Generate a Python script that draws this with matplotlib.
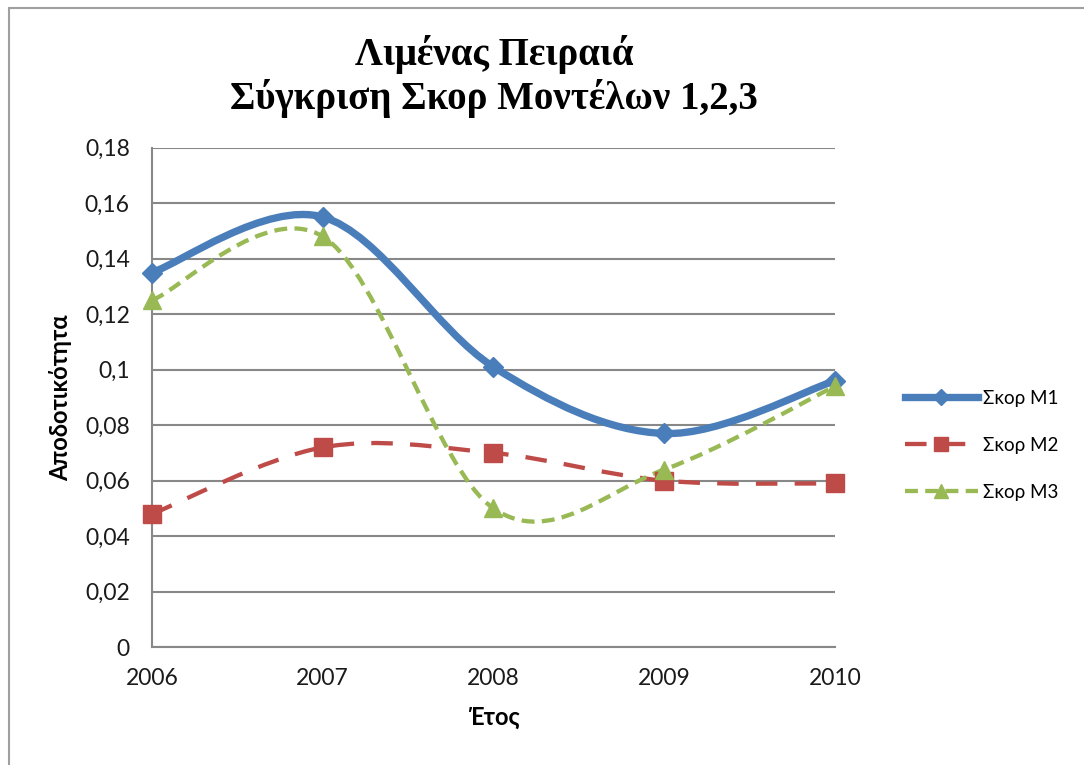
import matplotlib
matplotlib.use("Agg")
import matplotlib.pyplot as plt
import numpy as np
from matplotlib.path import Path
from matplotlib.patches import PathPatch, Rectangle
from matplotlib.lines import Line2D
from matplotlib.ticker import FuncFormatter

years = [2006, 2007, 2008, 2009, 2010]
score_m1 = [0.135, 0.155, 0.101, 0.077, 0.096]
score_m2 = [0.048, 0.072, 0.070, 0.060, 0.059]
score_m3 = [0.125, 0.148, 0.050, 0.064, 0.094]
labels = ["Σκορ M1", "Σκορ M2", "Σκορ M3"]
y_ticks = [0, 0.02, 0.04, 0.06, 0.08, 0.1, 0.12, 0.14, 0.16, 0.18]

SANS = ["Lato", "Noto Sans", "DejaVu Sans"]
plt.rcParams["font.family"] = SANS


def smooth_path(xs, ys):
    # Excel-style smoothed line: cubic Bezier through each point (Catmull-Rom, tension 1/6)
    p = np.column_stack([xs, ys]).astype(float)
    n = len(p)
    verts, codes = [p[0]], [Path.MOVETO]
    for i in range(n - 1):
        p0 = p[i - 1] if i > 0 else p[i]
        p3 = p[i + 2] if i + 2 < n else p[i + 1]
        c1 = p[i] + (p[i + 1] - p0) / 6
        c2 = p[i + 1] - (p3 - p[i]) / 6
        verts += [c1, c2, p[i + 1]]
        codes += [Path.CURVE4] * 3
    return Path(verts, codes)


# values, colour, width, dash, marker, marker size (plot), marker size (legend)
series = [
    (score_m1, "#4a7ebb", 5.3, "-", "D", 10, 8),
    (score_m2, "#be4b48", 3.1, (0, (5, 4)), "s", 13, 10),
    (score_m3, "#98b954", 3.1, (0, (3, 1.7)), "^", 13, 10),
]

fig = plt.figure(figsize=(10.84, 7.65), dpi=100)
ax = fig.add_axes([0.1402, 0.154, 0.630, 0.653])

handles = []
for (vals, color, lw, ls, mk, ms, lms), lab in zip(series, labels):
    ax.add_patch(PathPatch(smooth_path(years, vals), facecolor="none", edgecolor=color,
                           lw=lw, linestyle=ls, capstyle="butt", zorder=3))
    ax.plot(years, vals, linestyle="none", marker=mk, ms=ms, color=color, zorder=4, clip_on=False)
    handles.append(Line2D([], [], color=color, lw=lw, linestyle=ls, marker=mk, ms=lms))

ax.set_xlim(2006, 2010)
ax.set_ylim(0, 0.18)
ax.set_xticks(years)
ax.set_yticks(y_ticks)
ax.yaxis.set_major_formatter(FuncFormatter(lambda v, _: ("%g" % round(v, 2)).replace(".", ",")))
ax.grid(axis="y", color="#888888", lw=1.5)
ax.set_axisbelow(True)
for s in ["top", "right"]:
    ax.spines[s].set_visible(False)
for s in ["left", "bottom"]:
    ax.spines[s].set_color("#888888")
    ax.spines[s].set_linewidth(1.5)
ax.tick_params(length=0, labelsize=16.5, colors="#1a1a1a")
ax.tick_params(axis="y", pad=16)
ax.tick_params(axis="x", pad=15)

ax.set_xlabel("Έτος", fontsize=17, fontweight="bold", labelpad=12)
ax.set_ylabel("Αποδοτικότητα", fontsize=17, fontweight="bold", labelpad=9)

fig.text(0.456, 0.9, "Λιμένας Πειραιά\nΣύγκριση Σκορ Μοντέλων 1,2,3", ha="center", va="center",
         family=["Liberation Serif", "DejaVu Serif"], fontweight="bold", fontsize=28,
         linespacing=1.15)

ax.legend(handles=handles, labels=labels, loc="center left", bbox_to_anchor=(0.826, 0.418),
          bbox_transform=fig.transFigure, frameon=False, fontsize=13.5, handlelength=3.9,
          labelspacing=1.6, handletextpad=0.25, borderpad=0)

fig.patches.append(Rectangle((0.008, -0.01), 1.0, 0.999, transform=fig.transFigure,
                             fill=False, edgecolor="#a0a0a0", lw=1.5))

fig.savefig("out.png", dpi=100)
